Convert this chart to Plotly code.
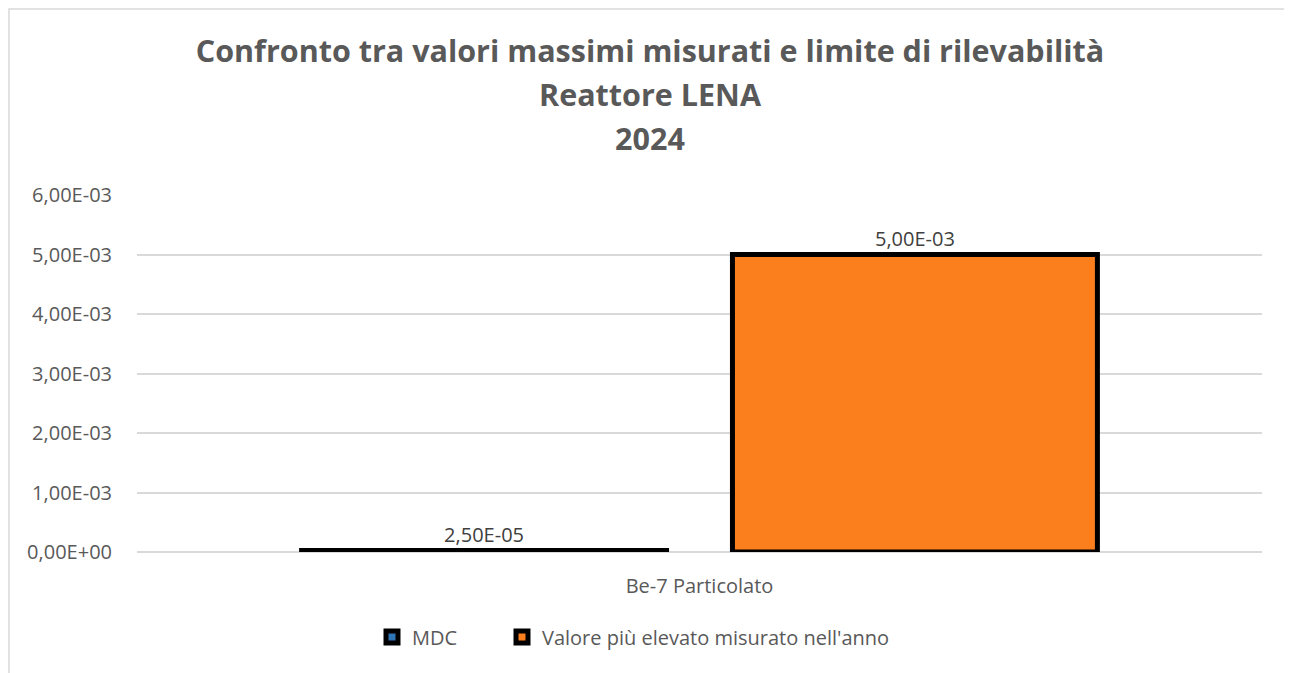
import plotly.graph_objects as go

categories = ["Be-7 Particolato"]
series_names = ["MDC", "Valore più elevato misurato nell'anno"]
mdc_values = [2.5e-5]
max_values = [5.0e-3]
mdc_labels = ["2,50E-05"]
max_labels = ["5,00E-03"]
tick_vals = [0, 1e-3, 2e-3, 3e-3, 4e-3, 5e-3, 6e-3]
tick_text = ["0,00E+00", "1,00E-03", "2,00E-03", "3,00E-03", "4,00E-03", "5,00E-03", "6,00E-03"]
title_lines = ["Confronto tra valori massimi misurati e limite di rilevabilità", "Reattore LENA", "2024"]

FONT = "Open Sans"
GRAY = "#595959"
FS = 20

# The page body has an 8px margin, so the figure is 8px smaller than the window.
W, H = 1284, 665
L, R, T, B = 129, 30, 187, 121
PW, PH = W - L - R, H - T - B

fig = go.Figure()
fig.add_trace(go.Bar(
    name=series_names[0], x=categories, y=mdc_values, text=mdc_labels,
    textposition="outside", cliponaxis=False, legend="legend",
    textfont=dict(size=FS, color="#404040", family=FONT),
    marker=dict(color="#2e75b6", line=dict(color="black", width=5)),
))
fig.add_trace(go.Bar(
    name=series_names[1], x=categories, y=max_values, text=max_labels,
    textposition="outside", cliponaxis=False, legend="legend2",
    textfont=dict(size=FS, color="#404040", family=FONT),
    marker=dict(color="#fb7f1d", line=dict(color="black", width=5)),
))

legend_common = dict(orientation="h", xanchor="left", yref="container",
                     y=36 / H, yanchor="middle", bgcolor="rgba(0,0,0,0)",
                     font=dict(size=FS, color=GRAY, family=FONT), itemwidth=30)

title_html = "<br>".join(title_lines)
fig.update_layout(
    width=W, height=H,
    margin=dict(l=L, r=R, t=T, b=B),
    paper_bgcolor="white", plot_bgcolor="white",
    barmode="group", bargap=0.234, bargroupgap=0.153,
    font=dict(family=FONT, color=GRAY, size=FS),
    title=dict(
        text="<b><span style='font-size:30.5px'>" + title_html + "</span></b>",
        x=0.5, xanchor="center", y=1 - 54 / H, yanchor="middle",
        font=dict(size=34, color=GRAY, family=FONT),
    ),
    showlegend=True,
    legend=dict(x=(372 - 8 - L) / PW, **legend_common),
    legend2=dict(x=(502 - 8 - L) / PW, **legend_common),
    xaxis=dict(showgrid=False, showline=False, ticks="", ticklabelstandoff=20,
               tickfont=dict(size=FS, color=GRAY, family=FONT)),
    yaxis=dict(range=[0, 6e-3], tickvals=tick_vals, ticktext=tick_text,
               showgrid=True, gridcolor="#d9d9d9", gridwidth=1.5,
               zeroline=True, zerolinecolor="#d9d9d9", zerolinewidth=1.5,
               showline=False, ticks="", ticklabelstandoff=24,
               tickfont=dict(size=FS, color=GRAY, family=FONT)),
    shapes=[dict(type="rect", xref="paper", yref="paper",
                 x0=-(L - 1) / PW, x1=(PW + R - 1) / PW, y0=-0.6, y1=(PH + T - 1) / PH,
                 line=dict(color="#d9d9d9", width=1.5), layer="below")],
)

fig.write_html("out.html")
